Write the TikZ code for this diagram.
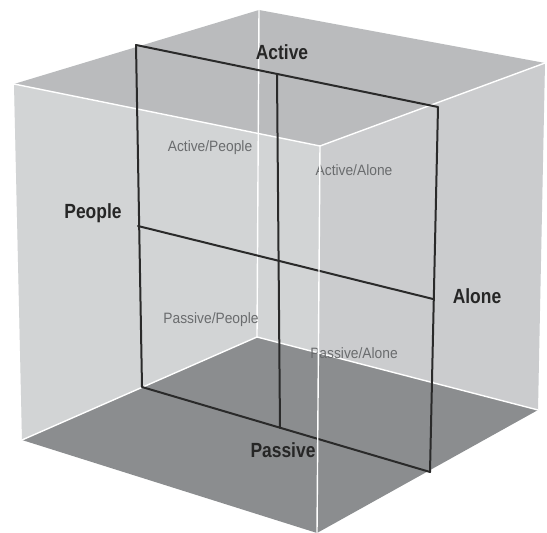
\documentclass[tikz,border=0pt]{standalone}
\usepackage{fontspec}
\setmainfont{Liberation Sans}
\newfontfamily\headfont{Liberation Sans}[FakeStretch=0.85]
\newfontfamily\cellfont{Liberation Sans}[FakeStretch=0.92]
\usetikzlibrary{positioning}

\definecolor{wall}{HTML}{C4C6C8}
\definecolor{floorgray}{HTML}{8B8D8F}
\definecolor{planeline}{HTML}{2A2A2A}
\definecolor{headtext}{HTML}{262626}
\definecolor{celltext}{HTML}{6A6C6E}

\tikzset{
  edge/.style={white, line width=0.7pt},
  plane/.style={planeline, line width=1pt},
  axislabel/.style={text=headtext, font=\headfont\bfseries\fontsize{10.25}{12}\selectfont, inner sep=1pt},
  celllabel/.style={text=celltext, font=\cellfont\fontsize{7.5}{9}\selectfont, inner sep=1pt}
}

\begin{document}
\begin{tikzpicture}[x=0.5pt, y=-0.5pt, line join=round, line cap=round]

\useasboundingbox (0,0) rectangle (547,533);

% cube corners
\coordinate (tl) at (14,84);
\coordinate (tb) at (259,10);
\coordinate (tr) at (545,63);
\coordinate (tf) at (320,146);
\coordinate (bl) at (22,440);
\coordinate (bb) at (257,337);
\coordinate (br) at (538,410);
\coordinate (bf) at (317,533);

% back walls, top and front faces
\fill[wall] (tl)--(tb)--(bb)--(bl)--cycle;
\fill[wall] (tb)--(tr)--(br)--(bb)--cycle;
\fill[black, opacity=0.05] (tl)--(tb)--(tr)--(tf)--cycle;
\fill[white, opacity=0.25] (tl)--(tf)--(bf)--(bl)--cycle;
\fill[white, opacity=0.12] (tf)--(tr)--(br)--(bf)--cycle;
\fill[floorgray] (bb)--(bl)--(bf)--(br)--cycle;

\draw[edge] (tl)--(tf)--(tr);
\draw[edge] (tb)--(bb);
\draw[edge] (bl)--(bb)--(br);

% dividing plane
\coordinate (pTL) at (136,45);
\coordinate (pTM) at (277,74);
\coordinate (pTR) at (438,107);
\coordinate (pML) at (138,226);
\coordinate (pMR) at (433,299);
\coordinate (pBL) at (142,387);
\coordinate (pBM) at (280,428);
\coordinate (pBR) at (430,472);

\draw[plane] (pTL)--(pTR)--(pBR)--(pBL)--cycle;
\draw[plane] (pTM)--(pBM);
\draw[plane] (pML)--(pMR);

\node[axislabel] (active) at (282,52) {Active};
\node[axislabel] (people) at (93,213) {People};
\node[axislabel] (alone) at (477,296) {Alone};
\node[axislabel] (passive) at (283,450) {Passive};

\node[celllabel] (actpeople) at (210,148) {Active/People};
\node[celllabel] (actalone) at (354,170) {Active/Alone};
\node[celllabel] (paspeople) at (211,320) {Passive/People};
\node[celllabel] (pasalone) at (354,353) {Passive/Alone};

\draw[edge] (tf)--(bf);

\end{tikzpicture}
\end{document}
